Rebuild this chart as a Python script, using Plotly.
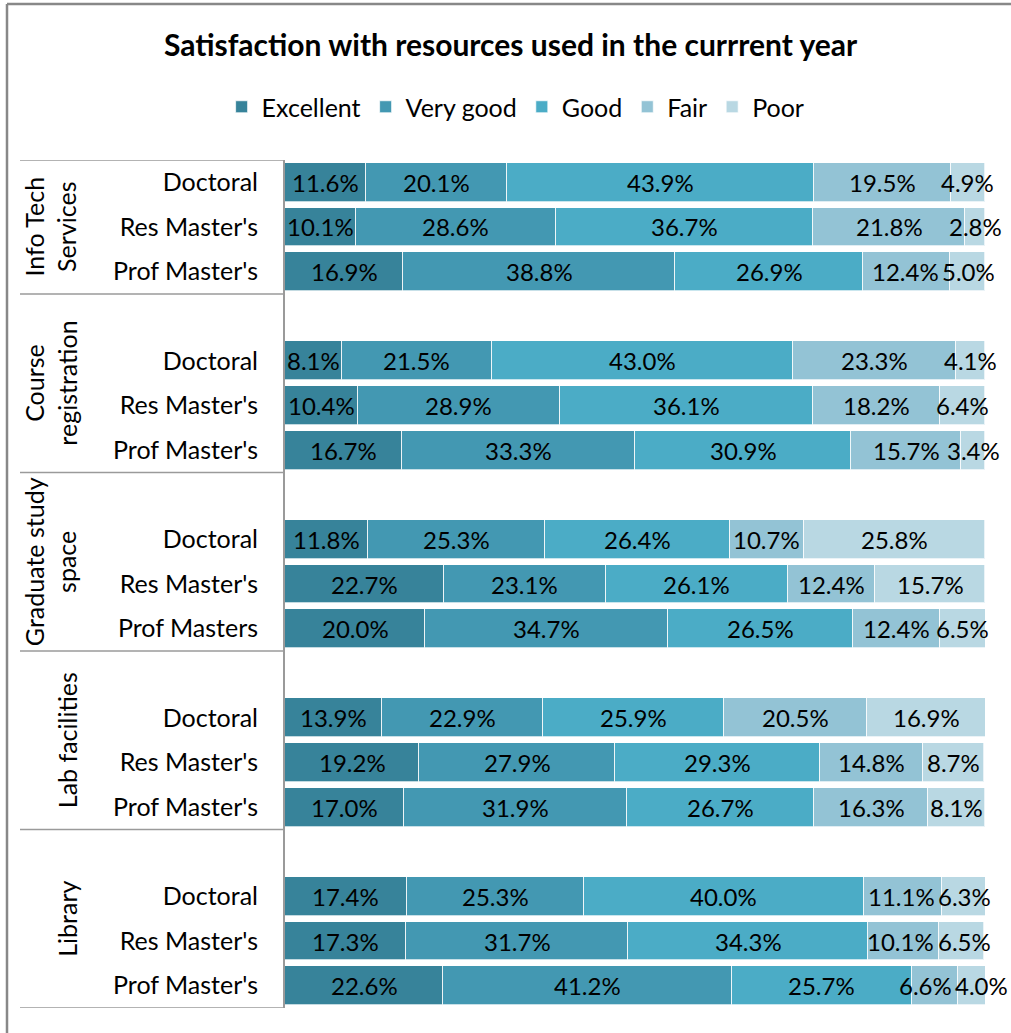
import plotly.graph_objects as go

# ---- data ----
groups = ["Info Tech<br>Services", "Course<br>registration", "Graduate study<br>space", "Lab facilities", "Library"]
rows = [
    ["Doctoral", "Res Master's", "Prof Master's"],
    ["Doctoral", "Res Master's", "Prof Master's"],
    ["Doctoral", "Res Master's", "Prof Masters"],
    ["Doctoral", "Res Master's", "Prof Master's"],
    ["Doctoral", "Res Master's", "Prof Master's"],
]
series = ["Excellent", "Very good", "Good", "Fair", "Poor"]
colors = ["#37839A", "#4398B2", "#4BACC6", "#93C3D5", "#B9D8E3"]

excellent = [11.6, 10.1, 16.9, 8.1, 10.4, 16.7, 11.8, 22.7, 20.0, 13.9, 19.2, 17.0, 17.4, 17.3, 22.6]
very_good = [20.1, 28.6, 38.8, 21.5, 28.9, 33.3, 25.3, 23.1, 34.7, 22.9, 27.9, 31.9, 25.3, 31.7, 41.2]
good      = [43.9, 36.7, 26.9, 43.0, 36.1, 30.9, 26.4, 26.1, 26.5, 25.9, 29.3, 26.7, 40.0, 34.3, 25.7]
fair      = [19.5, 21.8, 12.4, 23.3, 18.2, 15.7, 10.7, 12.4, 12.4, 20.5, 14.8, 16.3, 11.1, 10.1, 6.6]
poor      = [4.9, 2.8, 5.0, 4.1, 6.4, 3.4, 25.8, 15.7, 6.5, 16.9, 8.7, 8.1, 6.3, 6.5, 4.0]
values = [excellent, very_good, good, fair, poor]

# ---- layout helpers ----
W, H = 1011, 1033
ML, MR, MT, MB = 285, 26, 160, 25
PW, PH = W - ML - MR, H - MT - MB

def px_x(p):
    return (p - ML) / PW

def px_y(p):
    return (H - MB - p) / PH

FONT = "Lato, 'Open Sans', sans-serif"
LBL = 24

def est_width(t):
    w = 0.0
    for ch in t:
        w += 0.58 if ch.isdigit() else (0.25 if ch == "." else 0.85)
    return w * LBL

# slot positions: each group occupies 4 slots (first group 3)
ypos, ylab = [], []
for g, rl in enumerate(rows):
    for r, lab in enumerate(rl):
        ypos.append(g * 4 + r)
        ylab.append(lab)

fig = go.Figure()
for name, col, vals in zip(series, colors, values):
    fig.add_trace(go.Bar(
        y=ypos, x=vals, name=name, orientation="h",
        marker=dict(color=col, line=dict(color="rgba(255,255,255,0.7)", width=1)),
        width=0.87, cliponaxis=False, hoverinfo="skip",
    ))

# data labels, centred in each segment, pushed apart when they would collide
annotations = []
scale = PW / 100.0
for i in range(len(ypos)):
    cum = 0.0
    labs = []
    for vals in values:
        v = vals[i]
        t = f"{v:.1f}%"
        labs.append([t, cum + v / 2, est_width(t), 0.0])
        cum += v
    for k in range(len(labs) - 1):
        a, b = labs[k], labs[k + 1]
        dist = (b[1] - a[1]) * scale + b[3] - a[3]
        need = (a[2] + b[2]) / 2 + 2
        if need > dist:
            ov = need - dist
            a[3] -= ov / 2
            b[3] += ov / 2
    for t, xc, w, sh in labs:
        annotations.append(dict(text=t, xref="x", yref="y", x=xc, y=ypos[i], xshift=sh,
                                xanchor="center", yanchor="middle", showarrow=False,
                                font=dict(family=FONT, size=LBL, color="black")))

shapes = []
# group separators
n_groups = len(groups)
seps = [-0.5] + [g * 4 + 2.5 for g in range(n_groups)]
for s in seps:
    shapes.append(dict(type="line", xref="paper", yref="y", x0=px_x(20), x1=0, y0=s, y1=s,
                       line=dict(color="#9a9a9a", width=1.5)))
# outer frame (top & left)
shapes.append(dict(type="line", xref="paper", yref="paper", x0=px_x(7), x1=px_x(1020),
                   y0=px_y(4), y1=px_y(4), line=dict(color="#888888", width=2.5)))
shapes.append(dict(type="line", xref="paper", yref="paper", x0=px_x(7), x1=px_x(7),
                   y0=px_y(4), y1=px_y(1040), line=dict(color="#888888", width=2.5)))

for g, name in enumerate(groups):
    center = g * 4 + 1 - (0.5 if g > 0 else 0)
    annotations.append(dict(text=name, xref="paper", yref="y", x=px_x(84), y=center,
                            xanchor="right", yanchor="middle", textangle=-90, showarrow=False,
                            font=dict(family=FONT, size=25, color="black")))

fig.update_layout(
    width=W, height=H,
    margin=dict(l=ML, r=MR, t=MT, b=MB),
    paper_bgcolor="white", plot_bgcolor="white",
    barmode="stack", bargap=0,
    title=dict(text="<b>Satisfaction with resources used in the currrent year</b>",
               x=0.505, xref="container", xanchor="center", y=1 - 45 / H, yref="container",
               yanchor="middle", font=dict(family=FONT, size=30, color="black")),
    legend=dict(orientation="h", x=0.51, xref="container", xanchor="center",
                y=1 - 107 / H, yref="container", yanchor="middle",
                font=dict(family=FONT, size=25, color="black"), traceorder="normal",
                itemwidth=30, tracegroupgap=0),
    xaxis=dict(range=[0, 100], showgrid=False, zeroline=False, showticklabels=False,
               showline=False, fixedrange=True),
    yaxis=dict(range=[18.5, -0.5], tickmode="array", tickvals=ypos, ticktext=ylab,
               showgrid=False, zeroline=False, showline=True, linecolor="#9a9a9a", linewidth=2,
               ticks="", ticklabelstandoff=20,
               tickfont=dict(family=FONT, size=25, color="black")),
    shapes=shapes, annotations=annotations,
    showlegend=True,
)

fig.write_html("out.html", config={"displayModeBar": False},
               post_script="document.body.style.margin='0';")
